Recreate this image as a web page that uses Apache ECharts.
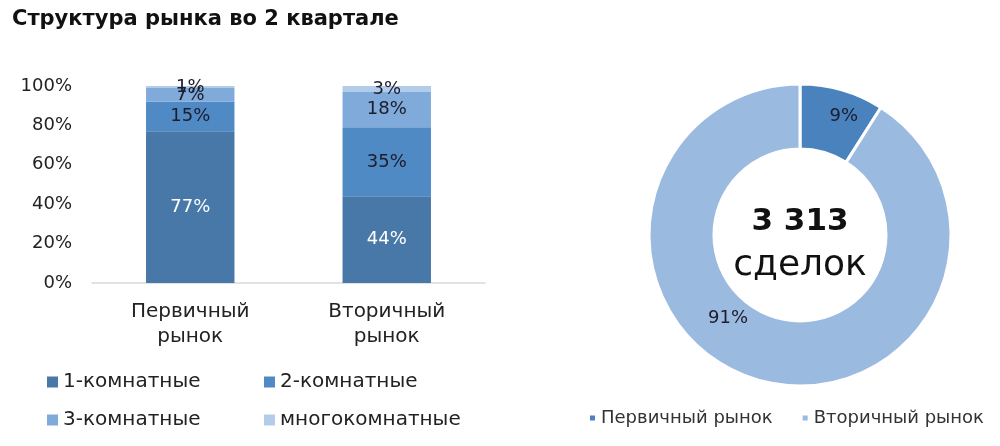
<!DOCTYPE html>
<html>
<head>
<meta charset="utf-8">
<script src="https://cdn.jsdelivr.net/npm/echarts@6/dist/echarts.min.js"></script>
<style>
  html, body { margin: 0; padding: 0; background: #fff; }
  #chart { width: 1000px; height: 446px; }
</style>
</head>
<body>
<div id="chart"></div>
<script>
// --- данные ---
const markets = ['Первичный\nрынок', 'Вторичный\nрынок'];
const roomTypes = ['1-комнатные', '2-комнатные', '3-комнатные', 'многокомнатные'];
const oneRoom = [77, 44];
const twoRoom = [15, 35];
const threeRoom = [7, 18];
const multiRoom = [1, 3];
const yTicks = [0, 20, 40, 60, 80, 100];

const pieNames = ['Первичный рынок', 'Вторичный рынок'];
const pieValues = [9, 91];
const totalDeals = '3 313';

const FONT = '"DejaVu Sans", sans-serif';
const barColors = ['#4878a8', '#4f8ac4', '#7faad9', '#b3ccea'];
const pieColors = ['#4a82be', '#9bbae0'];

const barData = [oneRoom, twoRoom, threeRoom, multiRoom];

const barSeries = roomTypes.map((name, i) => ({
    name: name,
    type: 'bar',
    stack: 'total',
    barWidth: '45%',
    itemStyle: { color: barColors[i] },
    label: {
        show: true,
        position: 'inside',
        formatter: '{c}%',
        fontFamily: FONT,
        fontSize: 18,
        color: i === 0 ? '#ffffff' : '#1c1c2c'
    },
    data: barData[i]
}));

// легенда столбцов 2x2
const legendPos = [[42, 367], [259, 367], [42, 405], [259, 405]];
const barLegends = roomTypes.map((name, i) => ({
    data: [name],
    left: legendPos[i][0],
    top: legendPos[i][1],
    icon: 'rect',
    itemWidth: 11,
    itemHeight: 11,
    itemGap: 4,
    textStyle: { fontFamily: FONT, fontSize: 20, color: '#222' }
}));

const chart = echarts.init(document.getElementById('chart'));
chart.setOption({
    animation: false,
    title: {
        text: 'Структура рынка во 2 квартале',
        left: 7,
        top: 4,
        textStyle: { fontFamily: FONT, fontSize: 21, fontWeight: 'bold', color: '#111' }
    },
    legend: barLegends.concat([{
        data: pieNames,
        left: 583,
        top: 404,
        icon: 'rect',
        itemWidth: 7,
        itemHeight: 7,
        itemGap: 28,
        textStyle: { fontFamily: FONT, fontSize: 18, color: '#333' }
    }]),
    grid: { left: 92, right: 515, top: 86, bottom: 163 },
    xAxis: {
        type: 'category',
        data: markets,
        axisTick: { show: false },
        axisLine: { lineStyle: { color: '#d9d9d9', width: 1.5 } },
        axisLabel: {
            fontFamily: FONT, fontSize: 20, color: '#222',
            margin: 16, lineHeight: 25
        }
    },
    yAxis: {
        type: 'value',
        min: yTicks[0],
        max: yTicks[yTicks.length - 1],
        interval: 20,
        splitLine: { show: false },
        axisLine: { show: false },
        axisLabel: {
            formatter: '{value}%',
            fontFamily: FONT, fontSize: 18, color: '#222', margin: 20
        }
    },
    graphic: [
        {
            type: 'text', x: 800, y: 222,
            style: { text: totalDeals, fontFamily: FONT, fontSize: 31, fontWeight: 'bold', fill: '#111', textAlign: 'center', textVerticalAlign: 'middle' }
        },
        {
            type: 'text', x: 800, y: 266,
            style: { text: 'сделок', fontFamily: FONT, fontSize: 36, fill: '#111', textAlign: 'center', textVerticalAlign: 'middle' }
        }
    ],
    series: barSeries.concat([{
        name: 'Сделки',
        type: 'pie',
        center: [800, 235],
        radius: [86, 151],
        startAngle: 90,
        clockwise: true,
        itemStyle: { borderColor: '#fff', borderWidth: 3 },
        label: {
            show: true,
            position: 'inside',
            formatter: '{c}%',
            fontFamily: FONT,
            fontSize: 18,
            color: '#1c1c2c'
        },
        labelLine: { show: false },
        // Excel-подобное размещение подписей
        labelLayout: function (params) {
            return params.dataIndex === 1 ? { dx: -38, dy: -33 } : { dx: 10, dy: -2 };
        },
        data: pieNames.map((n, i) => ({ name: n, value: pieValues[i], itemStyle: { color: pieColors[i] } }))
    }])
});
</script>
</body>
</html>
